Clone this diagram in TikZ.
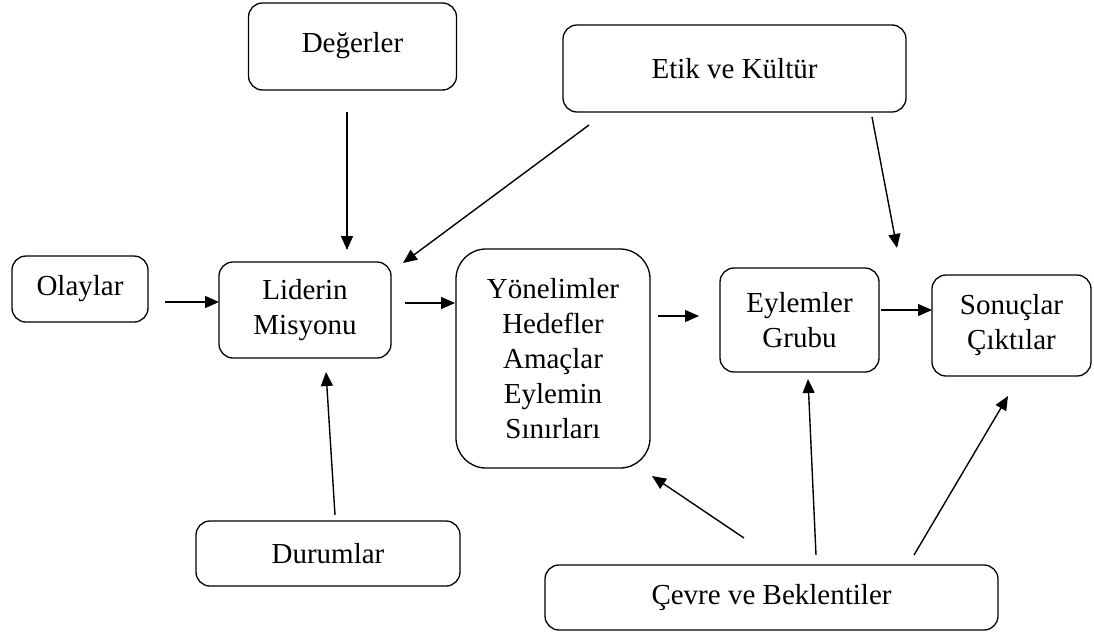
\documentclass[tikz,border=0pt]{standalone}
\usepackage{fontspec}
\setmainfont{Liberation Serif}
\usetikzlibrary{arrows.meta}
\begin{document}
\begin{tikzpicture}[x=1pt,y=-1pt,
  box/.style={draw, line width=1.3pt, rounded corners=14pt, align=center, inner sep=0pt, font=\fontsize{29}{35}\selectfont},
  arr/.style={line width=1.4pt, -{Triangle[length=14pt,width=12pt]}}]
\fill[white] (0,0) rectangle (1094,635);
\useasboundingbox (0,0) rectangle (1094,635);
% boxes
\node[box, minimum width=208pt, minimum height=87pt] (deg) at (352.5,46.5) {\raisebox{8pt}{Değerler}};
\node[box, minimum width=343pt, minimum height=87pt] (etik) at (734.5,68.5) {Etik ve Kültür};
\node[box, minimum width=136pt, minimum height=66pt] (olay) at (80,289) {Olaylar};
\node[box, minimum width=172pt, minimum height=96pt] (lid) at (305,310) {Liderin\\Misyonu};
\node[box, rounded corners=30pt, minimum width=194pt, minimum height=219pt] (yon) at (553,358.5) {Yönelimler\\Hedefler\\Amaçlar\\Eylemin\\Sınırları};
\node[box, minimum width=159pt, minimum height=104pt] (eyl) at (799.5,320) {Eylemler\\Grubu};
\node[box, minimum width=159pt, minimum height=101pt] (son) at (1011.5,325.5) {Sonuçlar\\Çıktılar};
\node[box, minimum width=264pt, minimum height=65pt] (dur) at (328,553.5) {Durumlar};
\node[box, minimum width=453pt, minimum height=65pt] (cev) at (771.5,597.5) {Çevre ve Beklentiler};
% arrow end points
\coordinate (degS) at (347,112);   \coordinate (degT) at (347,250);
\coordinate (etkS1) at (589,125);  \coordinate (etkT1) at (403,263);
\coordinate (etkS2) at (872,117);  \coordinate (etkT2) at (897,248);
\coordinate (olyS) at (165,302);   \coordinate (olyT) at (219,302);
\coordinate (lidS) at (405,303);   \coordinate (lidT) at (455,303);
\coordinate (yonS) at (658,316);   \coordinate (yonT) at (699,316);
\coordinate (eylS) at (881,310);   \coordinate (eylT) at (932,310);
\coordinate (durS) at (335,515);   \coordinate (durT) at (326,372);
\coordinate (cevS1) at (744,538);  \coordinate (cevT1) at (652,476);
\coordinate (cevS2) at (816,555);  \coordinate (cevT2) at (808,379);
\coordinate (cevS3) at (914,555);  \coordinate (cevT3) at (1008,396);
% arrows
\draw[arr] (degS) -- (degT);
\draw[arr] (etkS1) -- (etkT1);
\draw[arr] (etkS2) -- (etkT2);
\draw[arr] (olyS) -- (olyT);
\draw[arr] (lidS) -- (lidT);
\draw[arr] (yonS) -- (yonT);
\draw[arr] (eylS) -- (eylT);
\draw[arr] (durS) -- (durT);
\draw[arr] (cevS1) -- (cevT1);
\draw[arr] (cevS2) -- (cevT2);
\draw[arr] (cevS3) -- (cevT3);
\end{tikzpicture}
\end{document}
